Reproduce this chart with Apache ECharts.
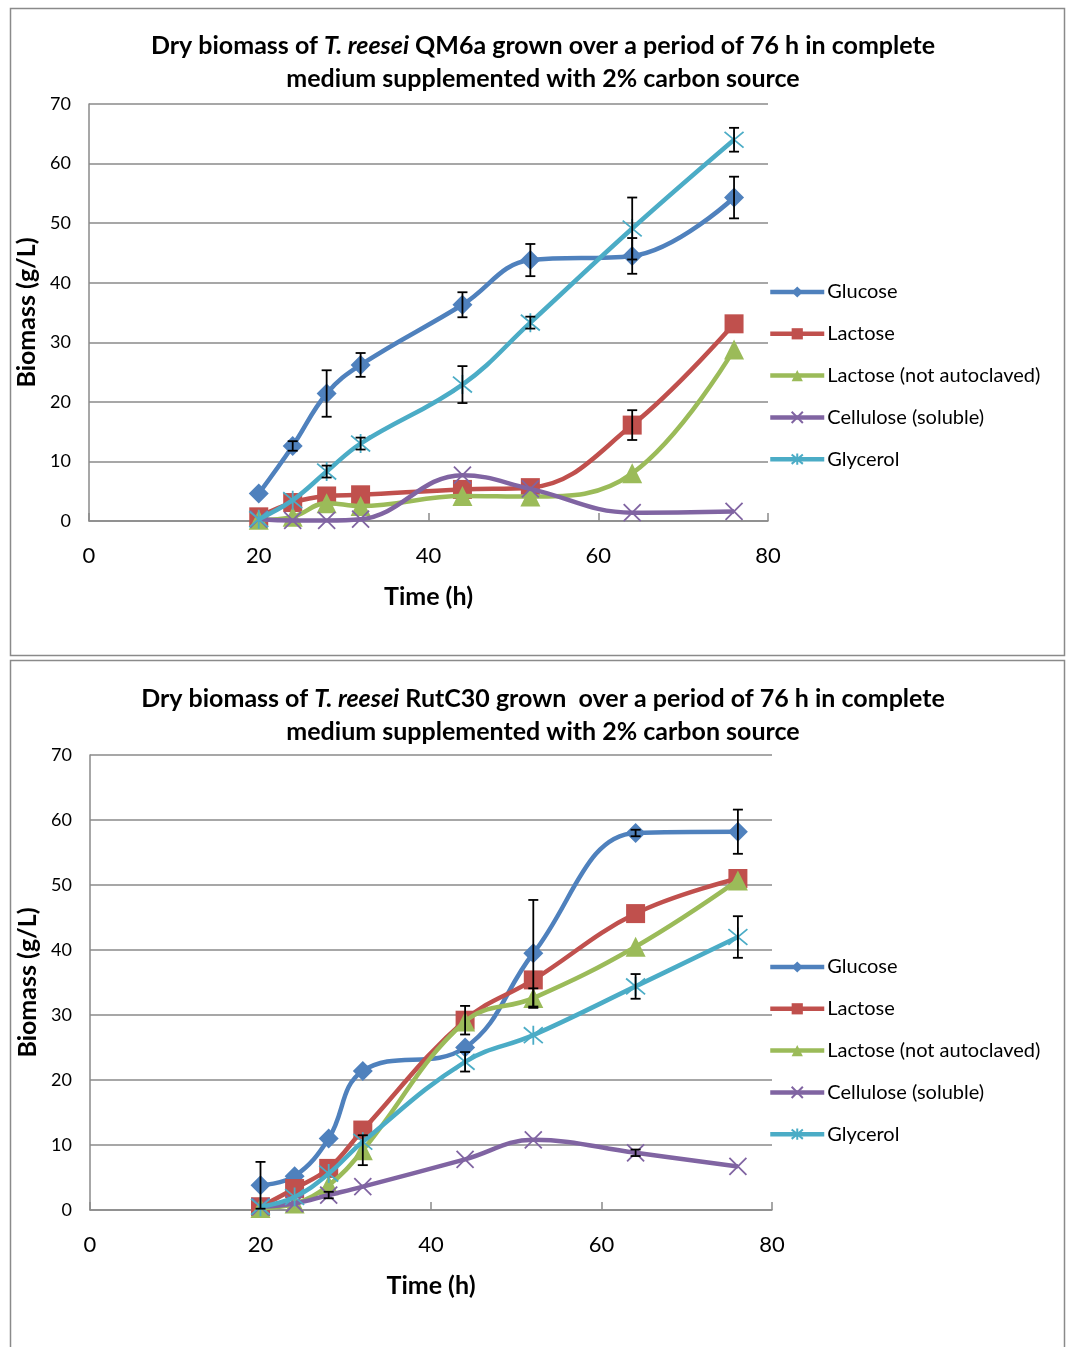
<!DOCTYPE html>
<html>
<head>
<meta charset="utf-8">
<script src="https://cdn.jsdelivr.net/npm/echarts@6/dist/echarts.min.js"></script>
<style>
html,body{margin:0;padding:0;background:#fff;}
#chart{width:1066px;height:1347px;}
</style>
</head>
<body>
<div id="chart"></div>
<script>
// ---- Data ----
const hours = [20, 24, 28, 32, 44, 52, 64, 76];
const seriesNames = ['Glucose', 'Lactose', 'Lactose (not autoclaved)', 'Cellulose (soluble)', 'Glycerol'];
const xTicks = [0, 20, 40, 60, 80];
const yTicks = [0, 10, 20, 30, 40, 50, 60, 70];

// QM6a (top chart)
const qmGlucose   = [4.6, 12.6, 21.4, 26.2, 36.3, 43.8, 44.5, 54.3];
const qmLactose   = [0.7, 3.1, 4.2, 4.4, 5.3, 5.6, 16.1, 33.1];
const qmLactoseNA = [0.2, 0.7, 3.0, 2.5, 4.2, 4.1, 8.0, 28.8];
const qmCellulose = [0.3, 0.1, 0.1, 0.3, 7.7, 5.4, 1.4, 1.6];
const qmGlycerol  = [0.3, 3.5, 8.3, 13.0, 22.9, 33.3, 49.1, 64.0];
const qmGlucoseErr   = [0, 0.8, 3.9, 2.0, 2.1, 2.7, 3.0, 3.5];
const qmLactoseErr   = [0, 0, 0, 0, 0, 0, 2.5, 0];
const qmLactoseNAErr = [0, 0, 0, 0, 0, 0, 0, 0];
const qmCelluloseErr = [0, 0, 0, 0, 0, 0, 0, 0];
const qmGlycerolErr  = [0, 0, 1.0, 1.0, 3.1, 1.0, 5.2, 2.0];

// RutC30 (bottom chart)
const rcGlucose   = [3.8, 5.2, 11.0, 21.4, 25.0, 39.5, 58.0, 58.2];
const rcLactose   = [0.5, 3.3, 6.4, 12.3, 29.2, 35.4, 45.6, 51.0];
const rcLactoseNA = [0.3, 1.0, 3.8, 9.2, 29.0, 32.6, 40.5, 50.7];
const rcCellulose = [0.5, 1.0, 2.3, 3.6, 7.8, 10.8, 8.8, 6.7];
const rcGlycerol  = [0.5, 2.0, 5.6, 10.5, 22.8, 26.9, 34.4, 42.0];
const rcGlucoseErr   = [3.6, 0, 0, 0, 0, 8.2, 0.5, 3.4];
const rcLactoseErr   = [0, 0, 0, 0, 2.2, 0, 0, 0];
const rcLactoseNAErr = [0, 0, 0, 2.3, 0, 1.5, 0, 0];
const rcCelluloseErr = [0, 0, 0.5, 0, 0, 0, 0.5, 0];
const rcGlycerolErr  = [0, 0, 0, 0, 1.5, 0, 1.9, 3.2];

// ---- Styling ----
const colors = ['#4F81BD', '#C0504D', '#9BBB59', '#8064A2', '#4BACC6'];
const symbols = ['diamond', 'rect', 'triangle', 'path://M0,0L10,10M10,0L0,10', 'path://M0,0L10,10M10,0L0,10M5,-1L5,11'];
const symbolSizes = [20, 19, 20, 17, 19];
const FONT = 'Lato, "Open Sans", sans-serif';
const gridColor = '#8a8a8a';

const chart = echarts.init(document.getElementById('chart'), null, {renderer: 'canvas'});

function pairs(vals) { return hours.map((h, i) => [h, vals[i]]); }
function errData(vals, errs) {
  const out = [];
  hours.forEach((h, i) => { if (errs[i] > 0) out.push([h, vals[i] - errs[i], vals[i] + errs[i]]); });
  return out;
}
function renderErr(params, api) {
  const x = api.value(0), lo = api.value(1), hi = api.value(2);
  const a = api.coord([x, lo]), b = api.coord([x, hi]);
  const w = 5;
  const st = {stroke: '#000', lineWidth: 1.8};
  return {type: 'group', children: [
    {type: 'line', shape: {x1: a[0], y1: a[1], x2: b[0], y2: b[1]}, style: st},
    {type: 'line', shape: {x1: a[0] - w, y1: a[1], x2: a[0] + w, y2: a[1]}, style: st},
    {type: 'line', shape: {x1: b[0] - w, y1: b[1], x2: b[0] + w, y2: b[1]}, style: st}
  ]};
}

function lineSeries(idx, vals, gi) {
  const isStroke = idx >= 3;
  return {
    type: 'line', name: seriesNames[idx], xAxisIndex: gi, yAxisIndex: gi,
    data: pairs(vals), smooth: 0.4, color: colors[idx],
    symbol: symbols[idx], symbolSize: symbolSizes[idx], showSymbol: true,
    lineStyle: {color: colors[idx], width: 4.5},
    itemStyle: isStroke ? {color: colors[idx], borderColor: colors[idx], borderWidth: 1.8} : {color: colors[idx], borderWidth: 0},
    emphasis: {disabled: true}, z: 2 + idx * 0.1, animation: false
  };
}
function errSeries(vals, errs, gi) {
  return {type: 'custom', xAxisIndex: gi, yAxisIndex: gi, data: errData(vals, errs),
    renderItem: renderErr, z: 5, silent: true, animation: false};
}

const grids = [
  {left: 89, top: 104, width: 679, height: 417},
  {left: 90, top: 755, width: 682, height: 455}
];

function xAxis(gi) {
  return {
    type: 'value', gridIndex: gi, min: xTicks[0], max: xTicks[xTicks.length - 1], interval: 20,
    axisLine: {show: true, lineStyle: {color: gridColor, width: 1.5}},
    axisTick: {show: true, inside: true, length: 8, lineStyle: {color: gridColor, width: 1.5}},
    splitLine: {show: false},
    axisLabel: {fontFamily: FONT, fontSize: 22, color: '#000', margin: 24},
    name: 'Time (h)', nameLocation: 'middle', nameGap: 63,
    nameTextStyle: {fontFamily: FONT, fontSize: 25, fontWeight: 'bold', color: '#000'}
  };
}
function yAxis(gi) {
  return {
    type: 'value', gridIndex: gi, min: yTicks[0], max: yTicks[yTicks.length - 1], interval: 10,
    axisLine: {show: true, lineStyle: {color: gridColor, width: 1.5}},
    axisTick: {show: false},
    splitLine: {show: true, lineStyle: {color: gridColor, width: 1.5}},
    axisLabel: {fontFamily: FONT, fontSize: 18, color: '#000', margin: 18},
    name: 'Biomass (g/L)', nameLocation: 'middle', nameGap: 40,
    nameTextStyle: {fontFamily: FONT, fontSize: 25, fontWeight: 'bold', color: '#000'}
  };
}
function legend(gi, top) {
  return {
    orient: 'vertical', left: 768, top: top, data: seriesNames,
    itemWidth: 54, itemHeight: 14, itemGap: 21.8, padding: 0,
    lineStyle: {width: 4.5},
    textStyle: {fontFamily: FONT, fontSize: 20, color: '#000', lineHeight: 20, padding: [0, 0, 0, -2]},
    selectedMode: false
  };
}
const titleStyle = {
  fontFamily: FONT, fontSize: 25, fontWeight: 'bold', color: '#000', lineHeight: 33,
  rich: {i: {fontFamily: FONT, fontSize: 25, fontWeight: 'bold', fontStyle: 'italic', color: '#000', lineHeight: 33}}
};

const qmVals = [qmGlucose, qmLactose, qmLactoseNA, qmCellulose, qmGlycerol];
const qmErrs = [qmGlucoseErr, qmLactoseErr, qmLactoseNAErr, qmCelluloseErr, qmGlycerolErr];
const rcVals = [rcGlucose, rcLactose, rcLactoseNA, rcCellulose, rcGlycerol];
const rcErrs = [rcGlucoseErr, rcLactoseErr, rcLactoseNAErr, rcCelluloseErr, rcGlycerolErr];

const series = [];
qmVals.forEach((v, i) => series.push(lineSeries(i, v, 0)));
rcVals.forEach((v, i) => series.push(lineSeries(i, v, 1)));
qmVals.forEach((v, i) => series.push(errSeries(v, qmErrs[i], 0)));
rcVals.forEach((v, i) => series.push(errSeries(v, rcErrs[i], 1)));

chart.setOption({
  animation: false,
  backgroundColor: '#fff',
  title: [
    {text: 'Dry biomass of {i|T. reesei} QM6a grown over a period of 76 h in complete\nmedium supplemented with 2% carbon source',
     left: 538, top: 24, textAlign: 'center', textStyle: titleStyle},
    {text: 'Dry biomass of {i|T. reesei} RutC30 grown  over a period of 76 h in complete\nmedium supplemented with 2% carbon source',
     left: 538, top: 677, textAlign: 'center', textStyle: titleStyle}
  ],
  legend: [legend(0, 282), legend(1, 957)],
  grid: grids,
  xAxis: [xAxis(0), xAxis(1)],
  yAxis: [yAxis(0), yAxis(1)],
  series: series,
  graphic: [
    {type: 'rect', shape: {x: 10.5, y: 8.5, width: 1054, height: 647}, style: {fill: 'none', stroke: '#8a8a8a', lineWidth: 1.5}, silent: true},
    {type: 'rect', shape: {x: 10.5, y: 660.5, width: 1054, height: 700}, style: {fill: 'none', stroke: '#8a8a8a', lineWidth: 1.5}, silent: true}
  ]
});
</script>
</body>
</html>
